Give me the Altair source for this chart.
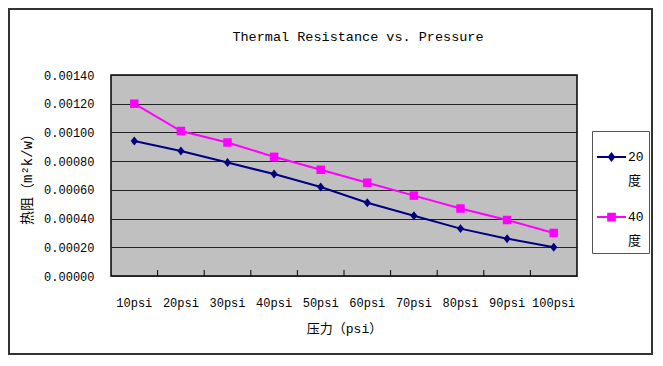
import altair as alt
import pandas as pd

pressures = ["10psi", "20psi", "30psi", "40psi", "50psi", "60psi", "70psi", "80psi", "90psi", "100psi"]
series_names = ["20度", "40度"]
r_20 = [0.00094, 0.00087, 0.00079, 0.00071, 0.00062, 0.00051, 0.00042, 0.00033, 0.00026, 0.00020]
r_40 = [0.00120, 0.00101, 0.00093, 0.00083, 0.00074, 0.00065, 0.00056, 0.00047, 0.00039, 0.00030]
y_ticks = [0.0, 0.0002, 0.0004, 0.0006, 0.0008, 0.0010, 0.0012, 0.0014]
colors = ["#000080", "#FF00FF"]

rows = []
for p, a, b in zip(pressures, r_20, r_40):
    rows.append({"pressure": p, "series": series_names[0], "r": a})
    rows.append({"pressure": p, "series": series_names[1], "r": b})
df = pd.DataFrame(rows)

MONO = "Liberation Mono, Noto Sans CJK SC"
W, H = 466, 201

x_axis = alt.Axis(title="压力（psi）", labelAngle=0, ticks=False, domain=False, grid=False,
                  labelFont=MONO, labelFontSize=12, labelColor="#000", labelPadding=21,
                  titleFont=MONO, titleFontSize=13, titleFontWeight="normal", titleColor="#000",
                  titlePadding=14)
x_scale = alt.Scale(type="band", domain=pressures, paddingInner=0, paddingOuter=0)
x_enc = alt.X("pressure:N", scale=x_scale, axis=x_axis)
y_enc = alt.Y("r:Q", scale=alt.Scale(domain=[0, 0.0014], nice=False),
              axis=alt.Axis(title="热阻（m²k/w）", values=y_ticks, format=".5f", ticks=False,
                            domain=False, grid=True, gridColor="#222", gridWidth=1,
                            labelFont=MONO, labelFontSize=12, labelColor="#000", labelPadding=17,
                            titleFont=MONO, titleFontSize=14, titleFontWeight="normal",
                            titleColor="#000", titlePadding=9))
color_scale = alt.Scale(domain=series_names, range=colors)

# legend symbols: thin filled bar (the line) plus the marker, nudged down to sit on the first label line
legend_paths = [
    "M-1,0.38L1,0.38L1,0.52L-1,0.52ZM0,0.11L0.27,0.45L0,0.79L-0.27,0.45Z",
    "M-1,0.38L1,0.38L1,0.52L-1,0.52ZM-0.3,0.15L0.3,0.15L0.3,0.75L-0.3,0.75Z",
]
leg = alt.Legend(title=None, orient="none", legendX=481, legendY=56, symbolSize=841,
                 symbolStrokeWidth=0, symbolOpacity=1,
                 labelFont=MONO, labelFontSize=13, labelColor="#000",
                 labelExpr="[substring(datum.label,0,2), substring(datum.label,2)]",
                 labelBaseline="top", labelOffset=2, padding=5, rowPadding=8,
                 strokeColor="#555", fillColor="white")
legend_layer = alt.Chart(df).transform_filter("false").mark_point(filled=True).encode(
    color=alt.Color("series:N", scale=color_scale, legend=leg),
    shape=alt.Shape("series:N", scale=alt.Scale(domain=series_names, range=legend_paths), legend=leg),
)

frame = alt.Chart(pd.DataFrame({"k": [0]})).mark_rect(
    filled=False, stroke="#333", strokeWidth=2
).encode(x=alt.value(-102), x2=alt.value(541), y=alt.value(-66), y2=alt.value(279))

lines = alt.Chart(df).mark_line(strokeWidth=2).encode(
    x=x_enc, y=y_enc, color=alt.Color("series:N", scale=color_scale)
)

marker_shapes = ["M0,-1L0.8,0L0,1L-0.8,0Z", "square"]
marker_sizes = [80, 72]
point_layers = []
for name, shp, sz in zip(series_names, marker_shapes, marker_sizes):
    point_layers.append(
        alt.Chart(df).transform_filter(alt.datum.series == name)
        .mark_point(filled=True, opacity=1, size=sz, shape=shp)
        .encode(x=x_enc, y=y_enc, color=alt.Color("series:N", scale=color_scale))
    )

ticks = alt.Chart(df).transform_filter(
    (alt.datum.series == series_names[0]) & (alt.datum.pressure != pressures[0])
).mark_rule(color="#000", strokeWidth=1).encode(
    x=alt.X("pressure:N", scale=x_scale, axis=x_axis, bandPosition=0),
    y=alt.value(H - 6), y2=alt.value(H),
)

chart = alt.layer(legend_layer, frame, lines, ticks, *point_layers).properties(
    width=W, height=H,
    title=alt.TitleParams("Thermal Resistance vs. Pressure", font=MONO, fontSize=13.5,
                          fontWeight="normal", color="#000", offset=-35, dx=14),
    autosize=alt.AutoSizeParams(type="none"),
    padding={"left": 103, "top": 67, "right": 76, "bottom": 80},
).configure(
    style={"guide-label": {"lineHeight": 24}}
).configure_view(fill="#C0C0C0", stroke="#000", strokeWidth=1.5)

chart.save("out.html", embed_options={"renderer": "svg", "actions": False})
